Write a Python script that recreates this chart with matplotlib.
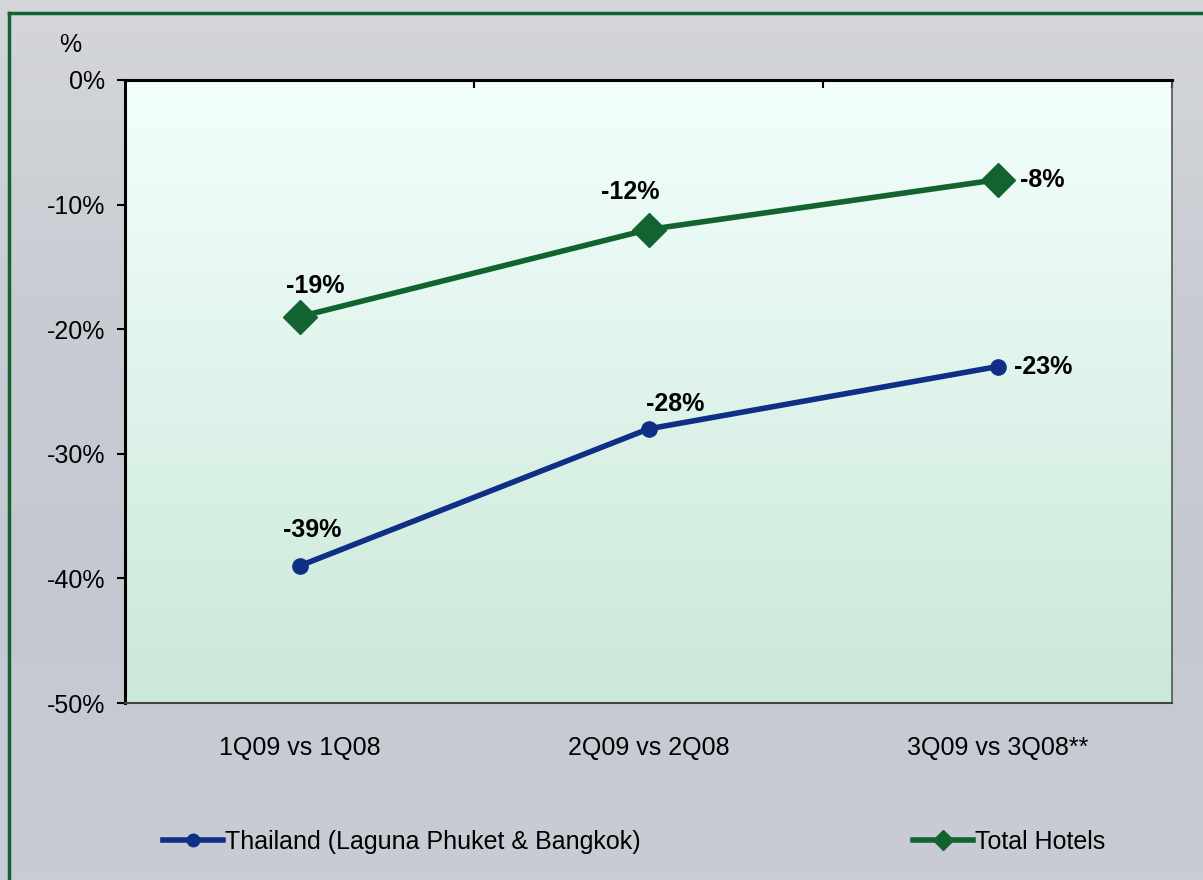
import matplotlib.pyplot as plt
import numpy as np

plt.rcParams['font.family'] = ['Liberation Sans', 'DejaVu Sans']

categories = ['1Q09 vs 1Q08', '2Q09 vs 2Q08', '3Q09 vs 3Q08**']
thailand = [-39, -28, -23]
total_hotels = [-19, -12, -8]
y_ticks = [0, -10, -20, -30, -40, -50]

blue = '#0f2f86'
green = '#12632f'

fig = plt.figure(figsize=(12.03, 8.8), dpi=100)

# background (photo stand-in)
bg = fig.add_axes([0, 0, 1, 1], zorder=-10)
grad = np.linspace(0, 1, 200).reshape(-1, 1)
bg.imshow(grad, aspect='auto', cmap=plt.matplotlib.colors.LinearSegmentedColormap.from_list(
    'bg', ['#d4d6d9', '#c9ccd3', '#c4c8d0', '#c9ccd4']), extent=[0, 1, 0, 1])
bg.axis('off')
# green frame
fig.add_artist(plt.Line2D([9 / 1203, 9 / 1203], [0, 1 - 13 / 880], color=green, lw=2.5))
fig.add_artist(plt.Line2D([9 / 1203, 1], [1 - 13 / 880, 1 - 13 / 880], color=green, lw=2.5))

ax = fig.add_axes([125 / 1203, 1 - 703 / 880, (1172 - 125) / 1203, (703 - 80) / 880])
# gradient plot area
ax.imshow(grad, aspect='auto', extent=[-0.5, 2.5, -50, 0], zorder=0,
          cmap=plt.matplotlib.colors.LinearSegmentedColormap.from_list('pa', ['#f3fffd', '#cbe8d8']),
          origin='upper')

x = np.arange(len(categories))
ax.plot(x, thailand, color=blue, lw=4, marker='o', ms=11, zorder=3,
        label='Thailand (Laguna Phuket & Bangkok)')
ax.plot(x, total_hotels, color=green, lw=4, marker='D', ms=17, zorder=3, label='Total Hotels')

# label offsets in points
thai_off = [(9, 26, 'center'), (19, 18, 'center'), (12, 0, 'left')]
total_off = [(11, 22, 'center'), (-13, 27, 'center'), (16, 0, 'left')]
for vals, offs in [(thailand, thai_off), (total_hotels, total_off)]:
    for i, v in enumerate(vals):
        dx, dy, ha = offs[i]
        ax.annotate(f'{v}%', (i, v), xytext=(dx, dy), textcoords='offset points',
                    ha=ha, va='center', fontsize=18, fontweight='bold')

ax.set_xlim(-0.5, 2.5)
ax.set_ylim(-50, 0)
ax.set_yticks(y_ticks)
ax.set_yticklabels([f'{t}%' for t in y_ticks], fontsize=18)
ax.tick_params(axis='y', direction='out', length=6, width=1.5, pad=8)
ax.set_xticks(x)
ax.set_xticklabels(categories, fontsize=18)
ax.tick_params(axis='x', length=0, pad=24)
ax.set_xticks([0.5, 1.5, 2.5], minor=True)
ax.tick_params(axis='x', which='minor', top=True, bottom=False, direction='in', length=6, width=1.5)

ax.spines['left'].set_linewidth(2.2)
ax.spines['top'].set_linewidth(2.2)
ax.spines['right'].set_color('#555555')
ax.spines['right'].set_linewidth(1.2)
ax.spines['bottom'].set_color('#444444')
ax.spines['bottom'].set_linewidth(1.5)

fig.text(70 / 1203, 1 - 45 / 880, '%', fontsize=18, ha='center', va='center')

h, l = ax.get_legend_handles_labels()
for k, (hx, lx) in enumerate([(140, h[0]), (890, h[1])]):
    leg = fig.legend([lx], [l[k]], loc='center left', bbox_to_anchor=(hx / 1203, 1 - 842 / 880),
                     frameon=False, handlelength=2.4, handletextpad=0.1,
                     prop={'size': 18})
    for line in leg.get_lines():
        line.set_markersize(9 if k == 0 else 10)
        line.set_linewidth(4)

fig.savefig('out.png', dpi=100)
